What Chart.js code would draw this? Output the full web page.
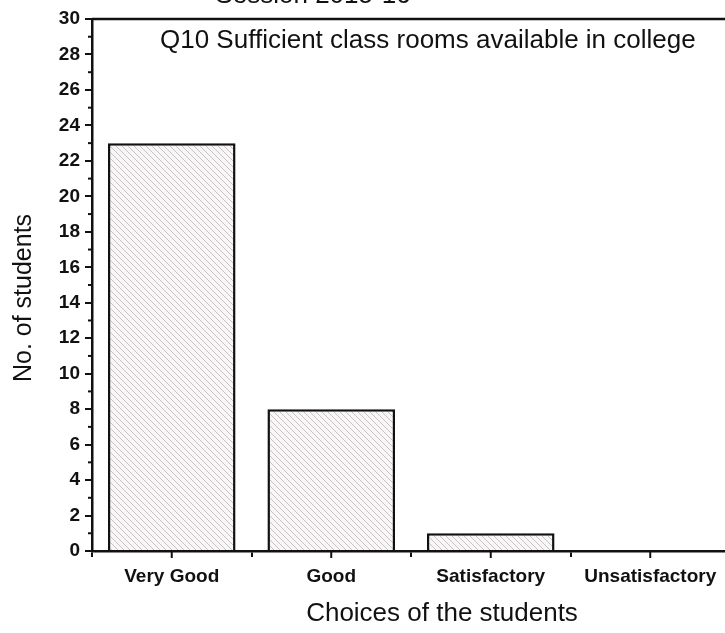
<!DOCTYPE html>
<html>
<head>
<meta charset="utf-8">
<script src="https://cdn.jsdelivr.net/npm/chart.js"></script>
<style>
  html, body { margin: 0; padding: 0; background: #fff; overflow: hidden; }
</style>
</head>
<body>
<canvas id="grafico" width="730" height="633"></canvas>
<script>
const categorias = ['Very Good', 'Good', 'Satisfactory', 'Unsatisfactory'];
const alunos = [23, 8, 1, 0];
const yMin = 0;
const yMax = 30;
const yPasso = 2;
const tituloSessao = 'Session 2015-16';
const tituloGrafico = 'Q10 Sufficient class rooms available in college';
const tituloX = 'Choices of the students';
const tituloY = 'No. of students';

const fonte = 'Arial, "Liberation Sans", sans-serif';

// hachura dos bares
function criarHachura() {
  const c = document.createElement('canvas');
  c.width = 6; c.height = 6;
  const g = c.getContext('2d');
  g.fillStyle = '#f8f7f7';
  g.fillRect(0, 0, 6, 6);
  g.strokeStyle = '#c9c1c3';
  g.lineWidth = 1;
  g.beginPath();
  g.moveTo(-1, -1); g.lineTo(7, 7);
  g.moveTo(-4, 2); g.lineTo(2, 8);
  g.moveTo(2, -4); g.lineTo(8, 2);
  g.stroke();
  return g.createPattern(c, 'repeat');
}

const extras = {
  id: 'extras',
  afterDraw(chart) {
    const { ctx, chartArea, scales } = chart;
    ctx.save();
    ctx.strokeStyle = '#111';
    ctx.lineWidth = 2.5;
    // moldura
    ctx.beginPath();
    ctx.moveTo(chartArea.left, chartArea.top);
    ctx.lineTo(chartArea.right, chartArea.top);
    ctx.lineTo(chartArea.right, chartArea.bottom);
    ctx.stroke();
    // ticks menores no eixo y
    ctx.lineWidth = 2;
    for (let v = yMin + 1; v < yMax; v += yPasso) {
      const y = scales.y.getPixelForValue(v);
      ctx.beginPath();
      ctx.moveTo(chartArea.left - 4, y);
      ctx.lineTo(chartArea.left, y);
      ctx.stroke();
    }
    // ticks no centro das categorias
    categorias.forEach((c, i) => {
      const x = scales.x.getPixelForValue(i);
      ctx.beginPath();
      ctx.moveTo(x, chartArea.bottom);
      ctx.lineTo(x, chartArea.bottom + 7);
      ctx.stroke();
    });
    ctx.fillStyle = '#111';
    ctx.textBaseline = 'middle';
    ctx.textAlign = 'left';
    ctx.font = '26px ' + fonte;
    ctx.fillText(tituloGrafico, chartArea.left + 68, 41);
    ctx.textAlign = 'center';
    ctx.fillText(tituloSessao, 313, -4);
    // titulos dos eixos
    ctx.fillText(tituloX, 442, 614);
    ctx.font = '25px ' + fonte;
    ctx.translate(24, 298);
    ctx.rotate(-Math.PI / 2);
    ctx.fillText(tituloY, 0, 0);
    ctx.restore();
  }
};

const ctx = document.getElementById('grafico');

new Chart(ctx, {
  type: 'bar',
  data: {
    labels: categorias,
    datasets: [{
      label: tituloY,
      data: alunos,
      backgroundColor: criarHachura(),
      borderColor: '#111',
      borderWidth: 2.5,
      barPercentage: 0.8,
      categoryPercentage: 1
    }]
  },
  options: {
    responsive: false,
    animation: false,
    layout: { padding: { top: 19, right: 0, left: 0, bottom: 0 } },
    plugins: {
      legend: { display: false },
      tooltip: { enabled: false }
    },
    scales: {
      x: {
        offset: true,
        afterFit(scale) { scale.height = 82; },
        grid: { drawOnChartArea: false, offset: true, tickLength: 6, color: '#111', lineWidth: 2 },
        border: { color: '#111', width: 2.5 },
        ticks: { color: '#111', padding: 8, font: { size: 19, weight: 'bold', family: fonte } }
      },
      y: {
        min: yMin,
        max: yMax,
        afterFit(scale) { scale.width = 92; },
        grid: { drawOnChartArea: false, tickLength: 7, color: '#111', lineWidth: 2 },
        border: { color: '#111', width: 2.5 },
        ticks: { stepSize: yPasso, color: '#111', padding: 5, font: { size: 19, weight: 'bold', family: fonte } }
      }
    }
  },
  plugins: [extras]
});
</script>
</body>
</html>
